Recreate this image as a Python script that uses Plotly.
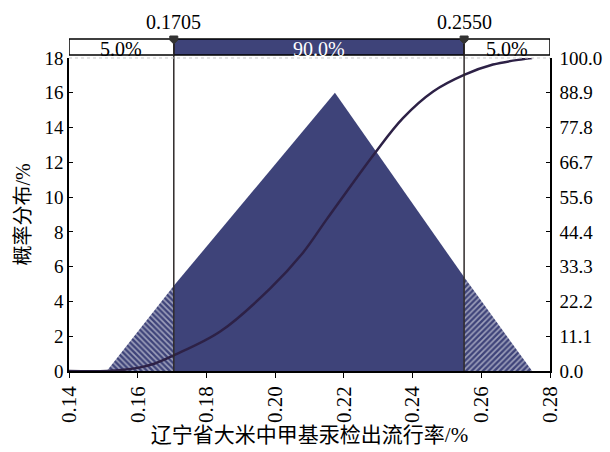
import plotly.graph_objects as go

# Simulated distribution outline (rate %, probability %)
dist_x = [0.151, 0.1705, 0.2174, 0.255, 0.2748]
dist_y = [0.0, 4.9, 16.0, 5.4, 0.0]

# Cumulative probability (%) read along the same rate axis
cdf_x = [0.140, 0.151, 0.160, 0.165, 0.1705, 0.184, 0.1985, 0.2081, 0.2151,
         0.229, 0.2372, 0.246, 0.255, 0.2634, 0.272, 0.2748]
cdf_y = [0.0, 0.0, 1.0, 2.4, 5.0, 12.6, 26.3, 37.8, 48.6,
         69.6, 80.8, 89.3, 94.6, 97.9, 99.6, 100.0]

# 90% interval bounds and band shares
cut_lo, cut_hi = 0.1705, 0.2550
cut_labels = ["0.1705", "0.2550"]
band_labels = ["5.0%", "90.0%", "5.0%"]

x_ticks = [0.14, 0.16, 0.18, 0.20, 0.22, 0.24, 0.26, 0.28]
y_ticks = [0, 2, 4, 6, 8, 10, 12, 14, 16, 18]
y2_ticktext = ["0.0", "11.1", "22.2", "33.3", "44.4", "55.6", "66.7", "77.8", "88.9", "100.0"]

BLUE = "#3e4379"
CURVE = "#2d2146"
FONT = "Liberation Serif, Noto Sans CJK SC"

x_min, x_max = x_ticks[0], x_ticks[-1]
main_top = 0.9428
bar_bottom, bar_top = 0.9518, 1.0

fig = go.Figure()

# left tail (hatched)
fig.add_trace(go.Scatter(
    x=[dist_x[0], dist_x[1], dist_x[1], dist_x[0]],
    y=[dist_y[0], dist_y[1], 0, dist_y[0]],
    fill="toself", mode="none", fillcolor=BLUE,
    fillpattern=dict(shape="\\", bgcolor=BLUE, fgcolor="white", size=4, solidity=0.4),
    hoverinfo="skip", showlegend=False))

# central 90% band
fig.add_trace(go.Scatter(
    x=[dist_x[1], dist_x[1], dist_x[2], dist_x[3], dist_x[3], dist_x[1]],
    y=[0, dist_y[1], dist_y[2], dist_y[3], 0, 0],
    fill="toself", mode="none", fillcolor=BLUE,
    hoverinfo="skip", showlegend=False))

# right tail (hatched)
fig.add_trace(go.Scatter(
    x=[dist_x[3], dist_x[3], dist_x[4], dist_x[3]],
    y=[0, dist_y[3], dist_y[4], 0],
    fill="toself", mode="none", fillcolor=BLUE,
    fillpattern=dict(shape="/", bgcolor=BLUE, fgcolor="white", size=4, solidity=0.4),
    hoverinfo="skip", showlegend=False))

# cumulative curve on the right axis
fig.add_trace(go.Scatter(
    x=cdf_x, y=cdf_y, yaxis="y2", mode="lines",
    line=dict(color=CURVE, width=2.5, shape="spline", smoothing=1.0),
    hoverinfo="skip", showlegend=False))

shapes = []
# top band bar
segments = [(x_min, cut_lo, "white"), (cut_lo, cut_hi, BLUE), (cut_hi, x_max, "white")]
for s0, s1, col in segments:
    shapes.append(dict(type="rect", xref="x", yref="paper", x0=s0, x1=s1,
                       y0=bar_bottom, y1=bar_top, fillcolor=col,
                       line=dict(color="black", width=1.5), layer="above"))
# cut lines through plot and bar
for c in (cut_lo, cut_hi):
    shapes.append(dict(type="line", xref="x", yref="paper", x0=c, x1=c,
                       y0=0, y1=bar_top, line=dict(color="#2f2a2a", width=1.5), layer="above"))
    shapes.append(dict(type="path", xref="x", yref="paper", xsizemode="pixel",
                       ysizemode="pixel", xanchor=c, yanchor=bar_top,
                       path="M -4 3 L 4 3 L 4 -1 L 0 -5 L -4 -1 Z",
                       fillcolor="#333333", line=dict(color="#333333", width=1), layer="above"))
# faint dotted top edge of plot area
shapes.append(dict(type="line", xref="paper", yref="paper", x0=0, x1=1,
                   y0=main_top, y1=main_top, line=dict(color="#c8c8c8", width=1, dash="dot")))

annotations = []
for c, t in zip((cut_lo, cut_hi), cut_labels):
    annotations.append(dict(x=c, y=bar_top, xref="x", yref="paper", text=t,
                            showarrow=False, yanchor="bottom", yshift=4,
                            font=dict(family=FONT, size=20, color="black")))
band_centers = [(x_min + cut_lo) / 2, (cut_lo + cut_hi) / 2, (cut_hi + x_max) / 2]
band_colors = ["black", "white", "black"]
for xc, t, col in zip(band_centers, band_labels, band_colors):
    annotations.append(dict(x=xc, y=(bar_bottom + bar_top) / 2, xref="x", yref="paper",
                            text=t, showarrow=False, yanchor="middle", yshift=-2,
                            font=dict(family=FONT, size=20, color=col)))

fig.update_layout(
    width=610, height=452,
    margin=dict(l=69, r=60, t=39, b=81),
    paper_bgcolor="white", plot_bgcolor="white",
    font=dict(family=FONT, size=19, color="black"),
    shapes=shapes, annotations=annotations,
    xaxis=dict(range=[x_min, x_max], tickvals=x_ticks, automargin=False,
               ticktext=[f"{v:.2f}" for v in x_ticks], tickangle=-90,
               tickfont=dict(size=21),
               ticks="outside", ticklen=5, tickcolor="black",
               showline=True, linecolor="black", linewidth=1.5,
               showgrid=False, zeroline=False,
               title=dict(text="辽宁省大米中甲基汞检出流行率/%", standoff=4,
                          font=dict(family=FONT, size=21))),
    yaxis=dict(domain=[0, main_top], range=[0, 18], tickvals=y_ticks, automargin=False,
               ticks="inside", ticklen=4, tickcolor="black",
               showline=True, linecolor="black", linewidth=1.5,
               showgrid=False, zeroline=False,
               title=dict(text="概率分布/%", standoff=8,
                          font=dict(family=FONT, size=20))),
    yaxis2=dict(domain=[0, main_top], range=[0, 100], overlaying="y", side="right",
                anchor="x", automargin=False,
                tickvals=[k * 100 / 9 for k in range(10)], ticktext=y2_ticktext,
                ticks="inside", ticklen=4, tickcolor="black", ticklabelstandoff=4,
                showline=True, linecolor="black", linewidth=1.5,
                showgrid=False, zeroline=False),
)

fig.write_html("out.html")
